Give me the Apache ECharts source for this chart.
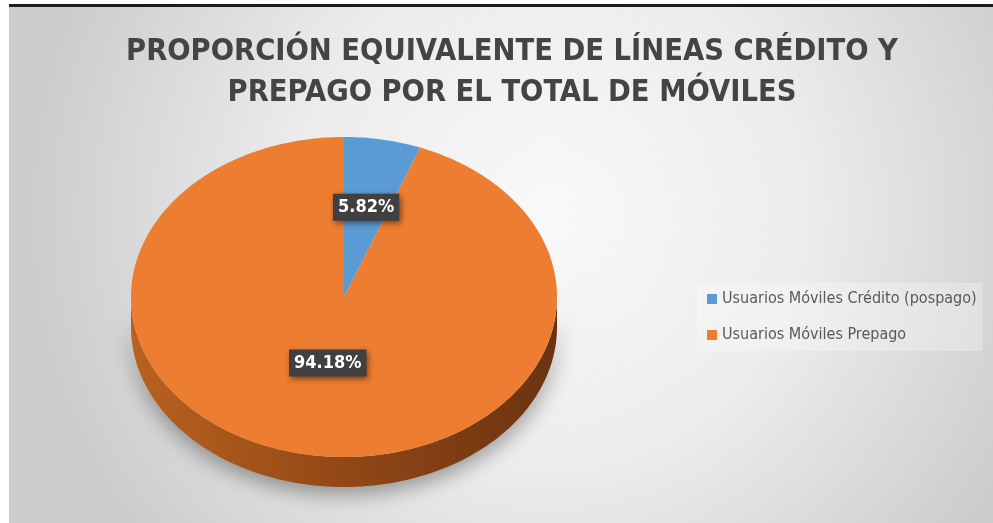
<!DOCTYPE html>
<html>
<head>
<meta charset="utf-8">
<script src="https://cdn.jsdelivr.net/npm/echarts@6/dist/echarts.min.js"></script>
<style>
html, body { margin: 0; padding: 0; background: #fff; }
#topline { position: absolute; left: 9px; top: 4px; width: 984px; height: 3px; background: #1c1c1c; }
#main { position: absolute; left: 9px; top: 7px; width: 984px; height: 516px; }
</style>
</head>
<body>
<div id="topline"></div>
<div id="main"></div>
<script>
var titleText = 'PROPORCIÓN EQUIVALENTE DE LÍNEAS CRÉDITO Y\nPREPAGO POR EL TOTAL DE MÓVILES';
var categories = ['Usuarios Móviles Crédito (pospago)', 'Usuarios Móviles Prepago'];
var shares = [5.82, 94.18];

var colors = ['#5B9BD5', '#ED7D31'];
var sideStops = [
  [[0, '#4677a6'], [1, '#2e5378']],
  [[0, '#b9621f'], [0.5, '#924816'], [1, '#6a3310']]
];

var chart = echarts.init(document.getElementById('main'));

var total = shares.reduce(function (a, b) { return a + b; }, 0);
var starts = [];
var acc = 0;
shares.forEach(function (v) { starts.push(acc); acc += v; });

// tilted pie: ellipse top face + visible front edge
var pie = { cx: 335, cy: 290, rx: 213, ry: 160, depth: 30, labelR: [0.57, 0.42] };

function rim(deg, dy) {
  var a = deg * Math.PI / 180;
  return [pie.cx + pie.rx * Math.sin(a), pie.cy - pie.ry * Math.cos(a) + (dy || 0)];
}
function arc(from, to, dy) {
  var pts = [], n = Math.max(2, Math.ceil(Math.abs(to - from)));
  for (var i = 0; i <= n; i++) pts.push(rim(from + (to - from) * i / n, dy));
  return pts;
}

function renderSlice(idx) {
  return function (params, api) {
    var v = api.value(0);
    var a0 = starts[idx] / total * 360;
    var a1 = a0 + v / total * 360;
    var children = [];
    // front side (only the part between 3 and 9 o'clock is visible)
    var s0 = Math.max(a0, 90), s1 = Math.min(a1, 270);
    if (s1 > s0) {
      children.push({
        type: 'polygon',
        z2: 1,
        shape: { points: arc(s0, s1, 0).concat(arc(s1, s0, pie.depth)) },
        style: {
          fill: new echarts.graphic.LinearGradient(0, 0, 1, 0, sideStops[idx].map(function (s) {
            return { offset: s[0], color: s[1] };
          })),
          shadowBlur: 20,
          shadowColor: 'rgba(0,0,0,0.35)',
          shadowOffsetY: 8
        }
      });
    }
    children.push({
      type: 'polygon',
      z2: 2,
      shape: { points: [[pie.cx, pie.cy]].concat(arc(a0, a1, 0)) },
      style: { fill: api.visual('color') }
    });
    var mid = (a0 + a1) / 2 * Math.PI / 180;
    var f = pie.labelR[idx];
    children.push({
      type: 'text',
      z2: 10,
      x: pie.cx + pie.rx * f * Math.sin(mid),
      y: pie.cy - pie.ry * f * Math.cos(mid),
      style: {
        text: v.toFixed(2) + '%',
        fill: '#fff',
        font: 'bold 18px "DejaVu Sans Condensed"',
        align: 'center',
        verticalAlign: 'middle',
        backgroundColor: '#404040',
        padding: [5, 5, 4, 5],
        shadowBlur: 6,
        shadowColor: 'rgba(0,0,0,0.5)',
        shadowOffsetX: 2,
        shadowOffsetY: 2
      }
    });
    return { type: 'group', children: children };
  };
}

var option = {
  backgroundColor: new echarts.graphic.RadialGradient(0.55, 0.4, 1, [
    { offset: 0, color: '#f9f9f9' },
    { offset: 0.5, color: '#ececec' },
    { offset: 1, color: '#cdcdcd' }
  ]),
  title: {
    text: titleText,
    left: 498,
    top: 20,
    textAlign: 'center',
    textStyle: {
      fontFamily: 'DejaVu Sans Condensed',
      fontWeight: 'bold',
      fontSize: 30.5,
      lineHeight: 41,
      color: '#444444'
    }
  },
  legend: {
    orient: 'vertical',
    left: 688,
    top: 276,
    data: categories,
    icon: 'rect',
    itemWidth: 10,
    itemHeight: 10,
    itemGap: 20,
    selectedMode: false,
    backgroundColor: 'rgba(255,255,255,0.28)',
    padding: [8, 6, 8, 10],
    textStyle: { color: '#595959', fontSize: 16, fontFamily: 'DejaVu Sans Condensed' }
  },
  series: categories.map(function (name, i) {
    return {
      type: 'custom',
      name: name,
      coordinateSystem: 'none',
      silent: true,
      itemStyle: { color: colors[i] },
      data: [[shares[i]]],
      renderItem: renderSlice(i)
    };
  })
};

chart.setOption(option);
</script>
</body>
</html>
